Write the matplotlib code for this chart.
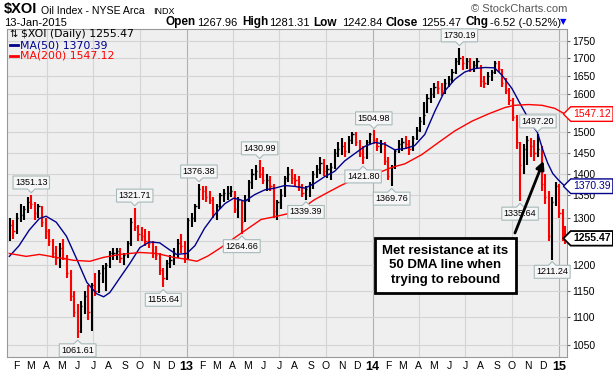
import matplotlib
matplotlib.use("Agg")
import matplotlib.pyplot as plt
import matplotlib.dates as mdates
import matplotlib.transforms as mtransforms
from matplotlib.lines import Line2D
from matplotlib.path import Path
from matplotlib.ticker import NullLocator, NullFormatter
import pandas as pd

plt.rcParams["font.family"] = ["Liberation Sans", "DejaVu Sans"]

# weekly bars (week ending)
week_dates = list(pd.date_range("2012-01-20", "2015-01-09", freq="W-FRI")) + [pd.Timestamp("2015-01-13")]

highs = [
    1300, 1295, 1310, 1330, 1325, 1345, 1351, 1335, 1330, 1325,
    1300, 1275, 1255, 1240, 1245, 1255, 1220, 1190, 1150, 1125,
    1130, 1150, 1160, 1165, 1185, 1190, 1200, 1205, 1230, 1235,
    1235, 1235, 1225, 1250, 1300, 1322, 1285, 1280, 1275, 1270,
    1250, 1240, 1225, 1195, 1210, 1220, 1235, 1255, 1265, 1250,
    1300, 1310, 1330, 1376, 1370, 1370, 1360, 1345, 1330, 1355,
    1365, 1370, 1370, 1360, 1345, 1340, 1350, 1385, 1410, 1420,
    1431, 1415, 1400, 1395, 1375, 1340, 1365, 1395, 1415, 1410,
    1400, 1395, 1375, 1370, 1380, 1405, 1420, 1440, 1435, 1420,
    1425, 1460, 1475, 1485, 1475, 1490, 1502, 1500, 1480, 1465,
    1480, 1498,
    1505, 1485, 1480, 1475, 1440, 1420, 1460, 1480, 1485, 1490,
    1480, 1490, 1515, 1540, 1580, 1600, 1615, 1630, 1635, 1630,
    1640, 1650, 1670, 1700, 1730, 1705, 1700, 1700, 1690, 1700,
    1680, 1650, 1660, 1665, 1690, 1690, 1670, 1645, 1615, 1590,
    1545, 1475, 1470, 1490, 1485, 1480, 1497, 1465, 1400, 1360,
    1345, 1380,
    1375, 1320, 1281,
]
lows = [
    1250, 1255, 1265, 1290, 1295, 1310, 1320, 1295, 1300, 1280,
    1255, 1240, 1215, 1200, 1195, 1210, 1175, 1130, 1100, 1062,
    1070, 1105, 1095, 1075, 1140, 1145, 1165, 1150, 1195, 1210,
    1210, 1205, 1200, 1215, 1240, 1270, 1250, 1250, 1240, 1235,
    1215, 1210, 1180, 1156, 1170, 1195, 1200, 1215, 1225, 1205,
    1210, 1280, 1290, 1320, 1340, 1335, 1330, 1300, 1295, 1320,
    1335, 1340, 1345, 1310, 1300, 1265, 1290, 1335, 1365, 1385,
    1390, 1375, 1360, 1360, 1300, 1295, 1320, 1345, 1380, 1375,
    1370, 1360, 1345, 1339, 1345, 1365, 1390, 1400, 1395, 1390,
    1385, 1410, 1440, 1445, 1440, 1450, 1470, 1465, 1440, 1422,
    1435, 1470,
    1470, 1455, 1450, 1420, 1385, 1370, 1410, 1450, 1455, 1460,
    1445, 1455, 1480, 1500, 1520, 1550, 1575, 1590, 1600, 1595,
    1600, 1620, 1630, 1655, 1680, 1665, 1670, 1660, 1660, 1670,
    1620, 1615, 1625, 1635, 1655, 1660, 1620, 1600, 1570, 1530,
    1460, 1336, 1400, 1420, 1440, 1430, 1440, 1360, 1330, 1250,
    1211, 1325,
    1300, 1250, 1243,
]
closes = [
    1285, 1270, 1300, 1305, 1320, 1335, 1330, 1310, 1325, 1290,
    1270, 1250, 1225, 1215, 1235, 1215, 1185, 1140, 1110, 1075,
    1120, 1140, 1110, 1160, 1150, 1185, 1195, 1200, 1225, 1225,
    1230, 1215, 1220, 1245, 1290, 1280, 1265, 1260, 1250, 1245,
    1225, 1220, 1190, 1175, 1205, 1210, 1225, 1245, 1240, 1215,
    1295, 1300, 1325, 1365, 1360, 1345, 1340, 1315, 1325, 1350,
    1355, 1355, 1360, 1320, 1340, 1290, 1340, 1380, 1400, 1405,
    1400, 1385, 1385, 1370, 1315, 1335, 1350, 1390, 1400, 1390,
    1385, 1370, 1355, 1365, 1375, 1400, 1410, 1425, 1405, 1410,
    1415, 1450, 1460, 1465, 1455, 1480, 1495, 1475, 1450, 1440,
    1475, 1495,
    1480, 1465, 1470, 1430, 1395, 1415, 1455, 1470, 1475, 1470,
    1460, 1485, 1505, 1530, 1545, 1590, 1600, 1620, 1615, 1610,
    1630, 1640, 1660, 1690, 1700, 1685, 1690, 1670, 1680, 1690,
    1635, 1630, 1650, 1660, 1685, 1670, 1630, 1610, 1585, 1540,
    1475, 1420, 1460, 1480, 1465, 1450, 1460, 1375, 1345, 1260,
    1335, 1370,
    1310, 1280, 1255.47,
]

ma50_dates = [
    "2012-01-19", "2012-02-07", "2012-02-27", "2012-03-18", "2012-03-31", "2012-04-20",
    "2012-05-10", "2012-05-30", "2012-06-19", "2012-07-08", "2012-07-22", "2012-08-03",
    "2012-08-23", "2012-09-11", "2012-10-01", "2012-10-20", "2012-11-09", "2012-11-29",
    "2012-12-12", "2013-01-01", "2013-01-17", "2013-02-05", "2013-02-25", "2013-03-17",
    "2013-04-03", "2013-04-15", "2013-04-25", "2013-05-14", "2013-06-03", "2013-06-23",
    "2013-07-12", "2013-08-01", "2013-08-21", "2013-09-09", "2013-09-29", "2013-10-18",
    "2013-11-07", "2013-11-27", "2013-12-16", "2014-01-05", "2014-01-24", "2014-02-13",
    "2014-03-05", "2014-03-24", "2014-04-13", "2014-05-03", "2014-05-22", "2014-06-11",
    "2014-06-30", "2014-07-20", "2014-08-09", "2014-08-28", "2014-09-11", "2014-10-01",
    "2014-10-20", "2014-11-09", "2014-11-20", "2014-12-01", "2014-12-10", "2014-12-20",
    "2014-12-31", "2015-01-13",
]
ma50_vals = [
    1218, 1240, 1273, 1298, 1303, 1290,
    1260, 1213, 1166, 1144, 1138, 1146,
    1175, 1203, 1236, 1248, 1246, 1231,
    1222, 1224, 1240, 1277, 1307, 1331,
    1343, 1340, 1336, 1351, 1362, 1366,
    1372, 1370, 1366, 1377, 1393, 1405,
    1430, 1448, 1465, 1475, 1471, 1457,
    1460, 1467, 1495, 1555, 1608, 1640,
    1660, 1670, 1673, 1672, 1652, 1615,
    1567, 1520, 1500, 1455, 1425, 1400,
    1385, 1370.39,
]

ma200_dates = [
    "2012-01-19", "2012-02-21", "2012-03-18", "2012-04-20", "2012-05-24", "2012-06-25",
    "2012-07-22", "2012-08-23", "2012-10-01", "2012-11-03", "2012-12-06", "2013-01-01",
    "2013-01-21", "2013-02-12", "2013-03-09", "2013-04-04", "2013-05-02", "2013-05-27",
    "2013-06-23", "2013-07-20", "2013-08-15", "2013-09-09", "2013-10-06", "2013-11-01",
    "2013-11-27", "2013-12-24", "2014-01-19", "2014-02-09", "2014-03-05", "2014-04-07",
    "2014-05-10", "2014-06-11", "2014-07-15", "2014-08-17", "2014-09-17", "2014-10-06",
    "2014-11-02", "2014-11-29", "2014-12-24", "2015-01-13",
]
ma200_vals = [
    1224, 1218, 1222, 1216, 1210, 1208,
    1216, 1222, 1226, 1224, 1216, 1212,
    1208, 1219, 1236, 1256, 1277, 1296,
    1302, 1309, 1320, 1340, 1357, 1373,
    1387, 1398, 1405, 1415, 1423, 1445,
    1475, 1504, 1529, 1548, 1564, 1570,
    1572, 1570, 1562, 1547.12,
]

# high/low labels on the chart
label_dates = [
    "2012-03-02", "2012-06-01", "2012-09-21", "2012-11-16", "2013-01-25", "2013-04-19",
    "2013-05-24", "2013-08-23", "2013-12-13", "2014-01-03", "2014-02-07", "2014-06-20",
    "2014-10-17", "2014-11-21", "2014-12-19",
]
label_values = [
    1351.13, 1061.61, 1321.71, 1155.64, 1376.38, 1264.66,
    1430.99, 1339.39, 1421.80, 1504.98, 1369.76, 1730.19,
    1335.64, 1497.20, 1211.24,
]
label_above = [
    True, False, True, False, True, False,
    True, False, False, True, False, True,
    False, True, False,
]

month_starts = pd.date_range("2012-02-01", "2015-01-01", freq="MS")
quarter_starts = pd.date_range("2012-04-01", "2015-01-01", freq="QS")
price_ticks = list(range(1050, 1751, 50))

W, H = 613, 372


def fx(px):
    return px / W


def fy(py):
    return 1 - py / H


def label_box(direction):
    def box(x0, y0, width, height, mutation_size):
        pad = 0.22 * mutation_size
        ph = 0.42 * mutation_size
        l, r = x0 - pad, x0 + width + pad
        b, t = y0 - pad, y0 + height + pad
        cx = (l + r) / 2
        cy = (b + t) / 2
        if direction == "down":
            verts = [(l, b), (cx - ph, b), (cx, b - ph), (cx + ph, b), (r, b), (r, t), (l, t), (l, b)]
        elif direction == "up":
            verts = [(l, b), (r, b), (r, t), (cx + ph, t), (cx, t + ph), (cx - ph, t), (l, t), (l, b)]
        else:
            hh = (t - b) / 2
            verts = [(l - hh, cy), (l, b), (r, b), (r, t), (l, t), (l - hh, cy)]
        return Path(verts, closed=True)
    return box


fig = plt.figure(figsize=(W / 100, H / 100), dpi=100)
ax = fig.add_axes([fx(7.3), fy(357), fx(567) - fx(7.3), fy(29) - fy(357)])
ax.set_facecolor("#efefef")
ax.set_yscale("log")
ax.set_ylim(1028.5, 1784.8)
ax.set_xlim(pd.Timestamp("2012-01-15"), pd.Timestamp("2015-01-17"))

# bars, red when the close is below the prior close
xd = mdates.date2num(week_dates)
cols = ["black"] + ["#ff0000" if c < p else "black" for p, c in zip(closes[:-1], closes[1:])]
ax.vlines(xd, lows, highs, colors=cols, lw=1.5, zorder=3)
ax.hlines(closes, xd, xd + 2.4, colors=cols, lw=1.0, zorder=3)

ax.plot(pd.to_datetime(ma50_dates), ma50_vals, color="#00008b", lw=1.0, zorder=4)
ax.plot(pd.to_datetime(ma200_dates), ma200_vals, color="#ff0000", lw=1.0, zorder=4)

# right-hand value tags (these hide the tick label underneath, as in the original)
tags = [
    (ma200_vals[-1], "#ff0000", "normal", 1.0),
    (ma50_vals[-1], "#00008b", "normal", 1.0),
    (closes[-1], "black", "bold", 1.3),
]

# axes styling
ax.yaxis.tick_right()
ax.set_yticks(price_ticks)
ax.set_yticklabels(["" if any(abs(v - t[0]) / v < 0.012 for t in tags) else str(v) for v in price_ticks])
ax.yaxis.set_minor_locator(NullLocator())
ax.yaxis.set_minor_formatter(NullFormatter())
ax.tick_params(axis="y", length=2, pad=1.5, labelsize=7.5, color="#666666", labelcolor="black")
ax.grid(axis="y", color="#d4d4d4", lw=0.8)
ax.set_axisbelow(True)

ax.set_xticks(month_starts)
ax.set_xticklabels([d.strftime("%y") if d.month == 1 else "JFMAMJJASOND"[d.month - 1] for d in month_starts])
ax.tick_params(axis="x", length=0, pad=3, labelsize=7.5)
for t in ax.get_xticklabels():
    if len(t.get_text()) == 2:
        t.set_fontweight("bold")
        t.set_fontsize(9)
for q in quarter_starts:
    ax.axvline(q, color="#b0b0b0" if q.month == 1 else "#d4d4d4", lw=0.8, zorder=0.5)
for s in ax.spines.values():
    s.set_color("#999999")
    s.set_linewidth(0.8)

# value labels
for d, v, up in zip(label_dates, label_values, label_above):
    ax.annotate(f"{v:.2f}", xy=(pd.Timestamp(d), v), xytext=(0, 5.5 if up else -5.5),
                textcoords="offset points", ha="center", va="bottom" if up else "top",
                fontsize=6.5, zorder=6,
                bbox=dict(boxstyle=label_box("down" if up else "up"), fc="#f6f6f6", ec="#a8baba", lw=0.8))

blend = mtransforms.blended_transform_factory(ax.transAxes, ax.transData)
for v, c, w, lw in tags:
    ax.text(1.0107, v, f"{v:.2f}", transform=blend, ha="left", va="center", color=c,
            fontsize=7.5, fontweight=w, clip_on=False, zorder=10,
            bbox=dict(boxstyle=label_box("left"), fc="white", ec=c, lw=lw))

# callout
ax.text(0.783, 0.279, "Met resistance at its\n50 DMA line when\ntrying to rebound",
        transform=ax.transAxes, ha="center", va="center", fontsize=9.5, fontweight="bold",
        linespacing=1.25, zorder=8,
        bbox=dict(boxstyle="square,pad=0.55", fc="white", ec="black", lw=2))
ax.annotate("", xy=(pd.Timestamp("2014-12-02"), 1430), xytext=(0.907, 0.378),
            textcoords="axes fraction", zorder=9,
            arrowprops=dict(arrowstyle="-|>", color="black", lw=2, mutation_scale=12, shrinkA=0, shrinkB=0))

# legend inside the chart
fig.text(fx(9), fy(34), "\u21c5", fontsize=7, va="center", ha="left", family="DejaVu Sans")
fig.text(fx(21), fy(34), "$XOI (Daily) 1255.47", fontsize=7.8, va="center", ha="left", family="DejaVu Sans")
fig.add_artist(Line2D([fx(10), fx(18)], [fy(45), fy(45)], color="#00008b", lw=2))
fig.text(fx(20), fy(45), "MA(50) 1370.39", fontsize=7.8, va="center", ha="left", color="#00008b", family="DejaVu Sans")
fig.add_artist(Line2D([fx(10), fx(18)], [fy(56), fy(56)], color="#ff0000", lw=2))
fig.text(fx(20), fy(56), "MA(200) 1547.12", fontsize=7.8, va="center", ha="left", color="#ff0000", family="DejaVu Sans")

# header
fig.text(fx(4), fy(13.5), "$XOI", fontsize=10.5, fontweight="bold", va="baseline")
fig.text(fx(41), fy(13.5), "Oil Index - NYSE Arca", fontsize=7.6, va="baseline")
fig.text(fx(153), fy(13.5), "INDX", fontsize=6.5, va="baseline")
fig.text(fx(567), fy(12.5), "\u00a9 StockCharts.com", fontsize=8, va="baseline", ha="right", color="#555555")
fig.text(fx(4), fy(25.5), "13-Jan-2015", fontsize=8, va="baseline")
header = [
    (165, "Open", "bold"), (197, "1267.96", "normal"),
    (242, "High", "bold"), (269, "1281.31", "normal"),
    (313, "Low", "bold"), (342, "1242.84", "normal"),
    (386, "Close", "bold"), (421, "1255.47", "normal"),
    (466, "Chg", "bold"), (490, "-6.52 (-0.52%)", "normal"),
]
for x, s, w in header:
    fig.text(fx(x), fy(25.5), s, fontsize=8 if w == "normal" else 8.5, fontweight=w, va="baseline")
fig.text(fx(563.5), fy(22), "\u25bc", fontsize=6, color="#0000ff", ha="center", va="center", family="DejaVu Sans")

fig.savefig("out.png", dpi=100, facecolor="white")
